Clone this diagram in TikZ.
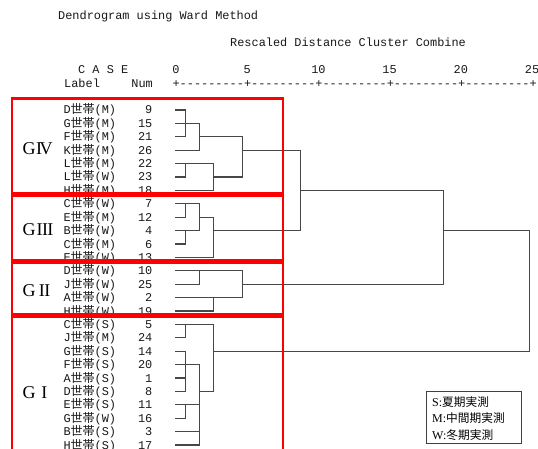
\documentclass[tikz,border=0pt]{standalone}
\usepackage{fontspec}
\setmainfont{Liberation Serif}
\setmonofont{Liberation Mono}
\newfontfamily\cjkf{Noto Sans CJK JP}
\newcommand\mtx{\ttfamily\fontsize{11.9}{12}\selectfont}
\newcommand\ctx{\cjkf\fontsize{12}{12}\selectfont}
\newcommand\Y[1]{{110+13.4*#1}}
\newcommand\lbl[2]{#1{\ctx 世帯}(#2)}
\begin{document}
\begin{tikzpicture}[x=1pt,y=-1pt,
  dl/.style={draw=black!72, line width=1.15pt},
  grpbox/.style={draw=red, line width=2.6pt},
  mt/.style={inner sep=0pt, font=\mtx, text=black!90},
  gl/.style={inner sep=0pt, anchor=base west, font=\fontsize{18}{18}\selectfont},
  lg/.style={inner sep=0pt, anchor=base west, font=\fontsize{12}{12}\selectfont},
]
\useasboundingbox (0,0) rectangle (538,449);
\fill[white] (0,0) rectangle (538,449);

% header
\node[mt, anchor=base west] (title) at (58,20) {Dendrogram using Ward Method};
\node[mt, anchor=base west] (rescaled) at (230,47) {Rescaled Distance Cluster Combine};
\node[mt, anchor=base west] (case) at (78,73.8) {C A S E};
\node[mt, anchor=base west] (label) at (64,87.2) {Label};
\node[mt, anchor=base east] (num) at (153,87.2) {Num};
\node[mt, anchor=base west] (axis) at (172.4,87.2) {+---------+---------+---------+---------+---------+};
\foreach \v [count=\k from 0] in {0,5,10,15,20,25}
  \node[mt, anchor=base] (t\v) at ({176+71.2*\k},73.8) {\v};

% row labels
\foreach \l/\s/\n [count=\i from 0] in {D/M/9, G/M/15, F/M/21, K/M/26, L/M/22, L/W/23, H/M/18,
   C/W/7, E/M/12, B/W/4, C/M/6, E/W/13, D/W/10, J/W/25, A/W/2, H/W/19,
   C/S/5, J/M/24, G/S/14, F/S/20, A/S/1, D/S/8, E/S/11, G/W/16, B/S/3, H/S/17} {
  \node[mt, anchor=base west] (lab\n) at (63.3,{110+13.4*\i+4}) {\lbl{\l}{\s}};
  \node[mt, anchor=base east] (n\n) at (152.5,{110+13.4*\i+4}) {\n};
}

% dendrogram: G IV
\draw[dl] (175,\Y{0}) -| (185.5,\Y{2}) -- (175,\Y{2});
\draw[dl] (175,\Y{1}) -| (199.5,\Y{3}) -- (175,\Y{3});
\draw[dl] (199.5,\Y{2}) -- (242.5,\Y{2});
\draw[dl] (175,\Y{4}) -| (213.5,\Y{6}) -- (175,\Y{6});
\draw[dl] (185.5,\Y{4}) |- (175,\Y{5});
\draw[dl] (213.5,\Y{5}) -- (242.5,\Y{5});
\draw[dl] (242.5,\Y{2}) -- (242.5,\Y{5});
\draw[dl] (242.5,\Y{3}) -- (300.5,\Y{3});
% G III
\draw[dl] (175,\Y{7}) -| (199.5,\Y{9}) -- (175,\Y{9});
\draw[dl] (185.5,\Y{7}) |- (175,\Y{8});
\draw[dl] (185.5,\Y{9}) |- (175,\Y{10});
\draw[dl] (199.5,\Y{8}) -| (213.5,\Y{11}) -- (175,\Y{11});
\draw[dl] (213.5,\Y{9}) -- (300.5,\Y{9});
\draw[dl] (300.5,\Y{3}) -- (300.5,\Y{9});
\draw[dl] (300.5,\Y{6}) -- (443.5,\Y{6});
% G II
\draw[dl] (175,\Y{12}) -| (242.5,\Y{14}) -- (175,\Y{14});
\draw[dl] (199.5,\Y{12}) |- (175,\Y{13});
\draw[dl] (213.5,\Y{14}) |- (175,\Y{15});
\draw[dl] (242.5,\Y{13}) -- (443.5,\Y{13});
\draw[dl] (443.5,\Y{6}) -- (443.5,\Y{13});
\draw[dl] (443.5,\Y{9}) -- (529.5,\Y{9});
% G I
\draw[dl] (175,\Y{16}) -| (213.5,\Y{21}) -- (199.5,\Y{21});
\draw[dl] (185.5,\Y{16}) |- (175,\Y{17});
\draw[dl] (175,\Y{18}) -| (185.5,\Y{21}) -- (175,\Y{21});
\draw[dl] (175,\Y{19}) -| (199.5,\Y{25}) -- (175,\Y{25});
\draw[dl] (175,\Y{20}) -- (185.5,\Y{20});
\draw[dl] (175,\Y{22}) -- (199.5,\Y{22});
\draw[dl] (185.5,\Y{22}) |- (175,\Y{23});
\draw[dl] (175,\Y{24}) -- (199.5,\Y{24});
\draw[dl] (213.5,\Y{18}) -| (529.5,\Y{9});

% group boxes
\draw[grpbox] (12,98.3) rectangle (283,193.3);
\draw[grpbox] (12,195.5) rectangle (283,260.3);
\draw[grpbox] (12,262.3) rectangle (283,314.5);
\draw[grpbox] (12,317) rectangle (283,470);

% group labels
\node[gl] (g4) at (22.3,155) {G\kern0.6pt I\kern-2.4pt V};
\node[gl] (g3) at (22.3,236) {G\kern1.2pt I\kern-0.6pt I\kern-0.6pt I};
\node[gl] (g2) at (22.3,296) {G\kern3.5pt I\kern-0.6pt I};
\node[gl] (g1) at (22.3,398) {G\kern6pt I};

% legend
\node[draw=black!75, line width=0.9pt, minimum width=95pt, minimum height=52pt,
      anchor=north west, inner sep=0pt] (legend) at (426,391) {};
\node[lg] (ls) at (432,406) {S:{\cjkf\fontsize{11.7}{12}\selectfont 夏期実測}};
\node[lg] (lm) at (432,422.5) {M:{\cjkf\fontsize{11.7}{12}\selectfont 中間期実測}};
\node[lg] (lw) at (432,439) {W:{\cjkf\fontsize{11.7}{12}\selectfont 冬期実測}};
\end{tikzpicture}
\end{document}
